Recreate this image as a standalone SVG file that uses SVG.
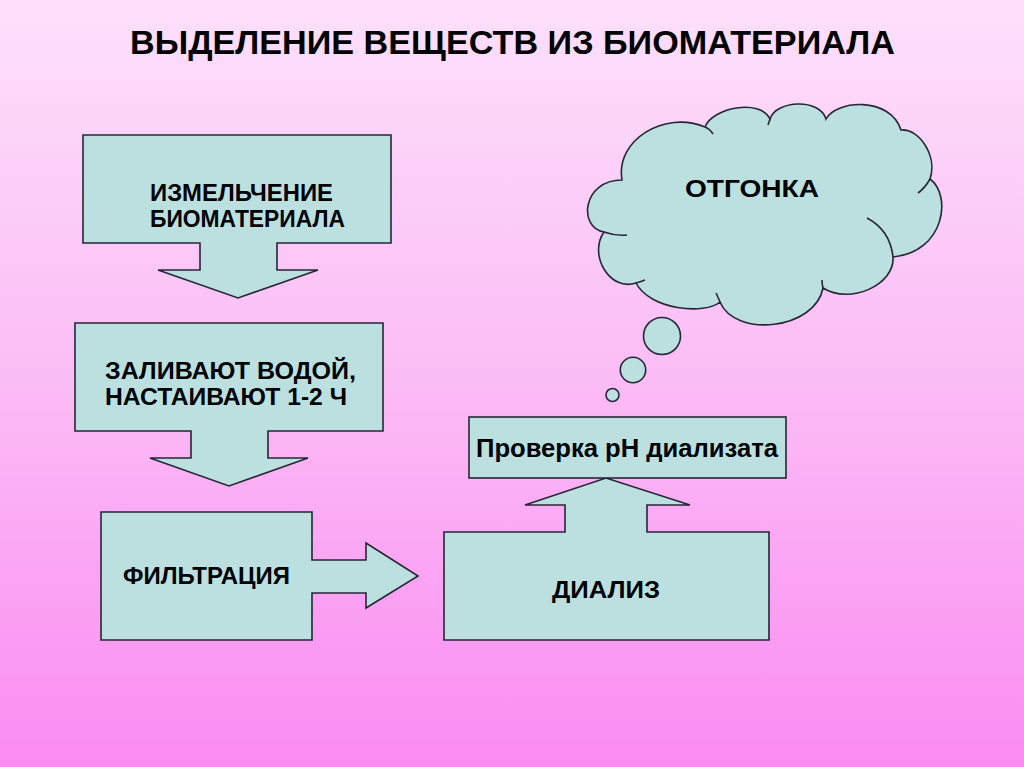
<svg xmlns="http://www.w3.org/2000/svg" width="1024" height="767" viewBox="0 0 1024 767">
<defs>
<linearGradient id="bg" x1="0" y1="0" x2="0" y2="1">
<stop offset="0" stop-color="#fde0fb"/>
<stop offset="0.5" stop-color="#fbbcf5"/>
<stop offset="1" stop-color="#fa8cf2"/>
</linearGradient>
<style>
.shape{fill:#bce0e0;stroke:#262636;stroke-width:1.6;stroke-linejoin:miter}
.crease{fill:none;stroke:#262636;stroke-width:1.6}
text{font-family:"Liberation Sans",Arial,sans-serif;font-weight:bold;fill:#000}
.t{font-size:24px}
.t2{font-size:23px}
</style>
</defs>
<rect x="0" y="0" width="1024" height="767" fill="url(#bg)"/>
<text x="130" y="54" font-size="33" textLength="765" lengthAdjust="spacingAndGlyphs">ВЫДЕЛЕНИЕ ВЕЩЕСТВ ИЗ БИОМАТЕРИАЛА</text>

<g id="connectors">
</g>

<g id="node-grinding">
<path class="shape" d="M83,135 H391 V243 H277 V270 H318 L238,298 L158,270 H200 V243 H83 Z"/>
<text class="t2" x="150" y="201" textLength="183" lengthAdjust="spacingAndGlyphs">ИЗМЕЛЬЧЕНИЕ</text>
<text class="t2" x="150" y="227" textLength="195" lengthAdjust="spacingAndGlyphs">БИОМАТЕРИАЛА</text>
</g>

<g id="node-water">
<path class="shape" d="M75,323 H383 V431 H268 V458 H308 L229,486 L150,458 H191 V431 H75 Z"/>
<text class="t2" x="105" y="379" textLength="251" lengthAdjust="spacingAndGlyphs">ЗАЛИВАЮТ ВОДОЙ,</text>
<text class="t2" x="105" y="405" textLength="242" lengthAdjust="spacingAndGlyphs">НАСТАИВАЮТ 1-2 Ч</text>
</g>

<g id="node-filtration">
<path class="shape" d="M101,512 H312 V560 H366 V543 L418,576 L366,608 V593 H312 V640 H101 Z"/>
<text class="t" x="123" y="584" textLength="167" lengthAdjust="spacingAndGlyphs">ФИЛЬТРАЦИЯ</text>
</g>

<g id="node-dialysis">
<path class="shape" d="M444,532 H565 V505 H525 L606,478 L690,505 H647 V532 H769 V640 H444 Z"/>
<text class="t" x="552" y="598" textLength="108" lengthAdjust="spacingAndGlyphs">ДИАЛИЗ</text>
</g>

<g id="node-ph">
<rect class="shape" x="469" y="417" width="317" height="61"/>
<text x="476" y="457" font-size="25" textLength="302" lengthAdjust="spacingAndGlyphs">Проверка pH диализата</text>
</g>

<g id="node-distillation">
<path class="shape" d="M622,180 C615,140 665,110 705,127 C712,108 760,98 770,119 C776,100 820,98 826,119 C836,100 890,96 901,130 C918,128 938,155 930,179 C952,195 945,252 893,257 C895,285 850,305 823,288 C815,330 735,338 720,302 C705,315 650,310 636,283 C610,292 588,255 604,232 C578,228 582,180 622,180 Z"/>
<path class="crease" d="M705,127 Q710,129 713,134"/>
<path class="crease" d="M604,232 Q615,236 627,235"/>
<path class="crease" d="M636,283 Q640,282 645,280"/>
<path class="crease" d="M720,302 Q718,297 716,293"/>
<path class="crease" d="M823,288 Q822,284 822,280"/>
<path class="crease" d="M893,257 Q890,230 867,218"/>
<path class="crease" d="M930,179 Q925,188 918,193"/>
<path class="crease" d="M770,119 Q769,122 768,125"/>
<circle class="shape" cx="662" cy="336" r="18.5"/>
<circle class="shape" cx="633" cy="370" r="12.7"/>
<circle class="shape" cx="612.5" cy="395" r="6.5"/>
<text class="t" x="685" y="197" textLength="134" lengthAdjust="spacingAndGlyphs">ОТГОНКА</text>
</g>
</svg>
